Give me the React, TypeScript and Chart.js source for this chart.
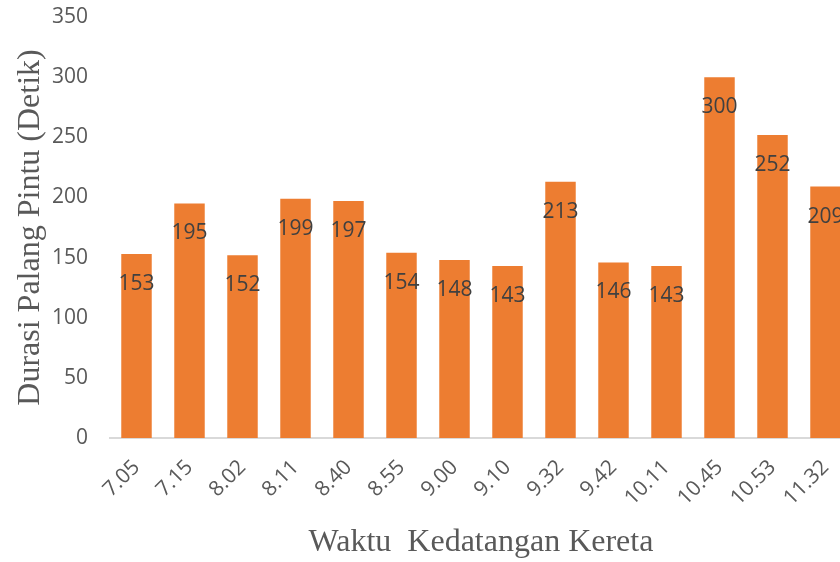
import React, { useEffect, useRef } from "react";
import { Chart, registerables } from "chart.js";

Chart.register(...registerables);

const categories = ["7.05", "7.15", "8.02", "8.11", "8.40", "8.55", "9.00", "9.10", "9.32", "9.42", "10.11", "10.45", "10.53", "11.32"];
const durations = [153, 195, 152, 199, 197, 154, 148, 143, 213, 146, 143, 300, 252, 209];
const yTicks = [0, 50, 100, 150, 200, 250, 300, 350];

const barLabelPlugin = {
  id: "barLabels",
  afterDatasetsDraw(chart: any) {
    const ctx = chart.ctx;
    const meta = chart.getDatasetMeta(0);
    ctx.save();
    ctx.font = "21px 'Open Sans'";
    ctx.fillStyle = "#404040";
    ctx.textAlign = "center";
    ctx.textBaseline = "middle";
    meta.data.forEach((bar: any, i: number) => {
      ctx.fillText(String(durations[i]), bar.x, bar.y + 30);
    });
    ctx.restore();
  },
};

export default function App() {
  const ref = useRef<HTMLCanvasElement | null>(null);
  useEffect(() => {
    if (!ref.current) return;
    const chart = new Chart(ref.current, {
      type: "bar",
      data: {
        labels: categories,
        datasets: [
          {
            data: durations,
            backgroundColor: "#ED7D31",
            barPercentage: 0.575,
            categoryPercentage: 1,
          },
        ],
      },
      options: {
        animation: false,
        responsive: false,
        maintainAspectRatio: false,
        layout: { padding: { top: 17, right: 8, left: 0, bottom: 0 } },
        plugins: { legend: { display: false }, tooltip: { enabled: false } },
        scales: {
          x: {
            grid: { display: false, drawTicks: false },
            border: { display: true, color: "#d9d9d9", width: 2 },
            ticks: {
              color: "#595959",
              font: { family: "'Open Sans'", size: 21 },
              minRotation: 45,
              maxRotation: 45,
              padding: 17,
            },
            title: {
              display: true,
              text: "Waktu  Kedatangan Kereta",
              color: "#595959",
              font: { family: "'Liberation Serif'", size: 32 },
              padding: { top: 0, bottom: 0 },
            },
            afterFit: (axis: any) => {
              axis.height = 124;
              axis.paddingLeft = 0;
              axis.paddingRight = 0;
            },
          },
          y: {
            min: 0,
            max: 350,
            afterBuildTicks: (axis: any) => {
              axis.ticks = yTicks.map((v) => ({ value: v }));
            },
            grid: { display: false, drawTicks: false },
            border: { display: false },
            ticks: {
              color: "#595959",
              font: { family: "'Open Sans'", size: 21 },
              padding: 22,
            },
            title: {
              display: true,
              text: "Durasi Palang Pintu (Detik)",
              color: "#595959",
              font: { family: "'Liberation Serif'", size: 32 },
              padding: { top: 11, bottom: 0 },
            },
            afterFit: (axis: any) => {
              axis.width = 110;
              axis.paddingTop = 0;
              axis.paddingBottom = 0;
            },
          },
        },
      },
      plugins: [barLabelPlugin],
    });
    return () => chart.destroy();
  }, []);
  return (
    <div style={{ position: "fixed", left: 0, top: 0, width: 840, height: 562, overflow: "hidden", background: "#fff" }}>
      <canvas ref={ref} width={860} height={562} style={{ display: "block" }} />
    </div>
  );
}
